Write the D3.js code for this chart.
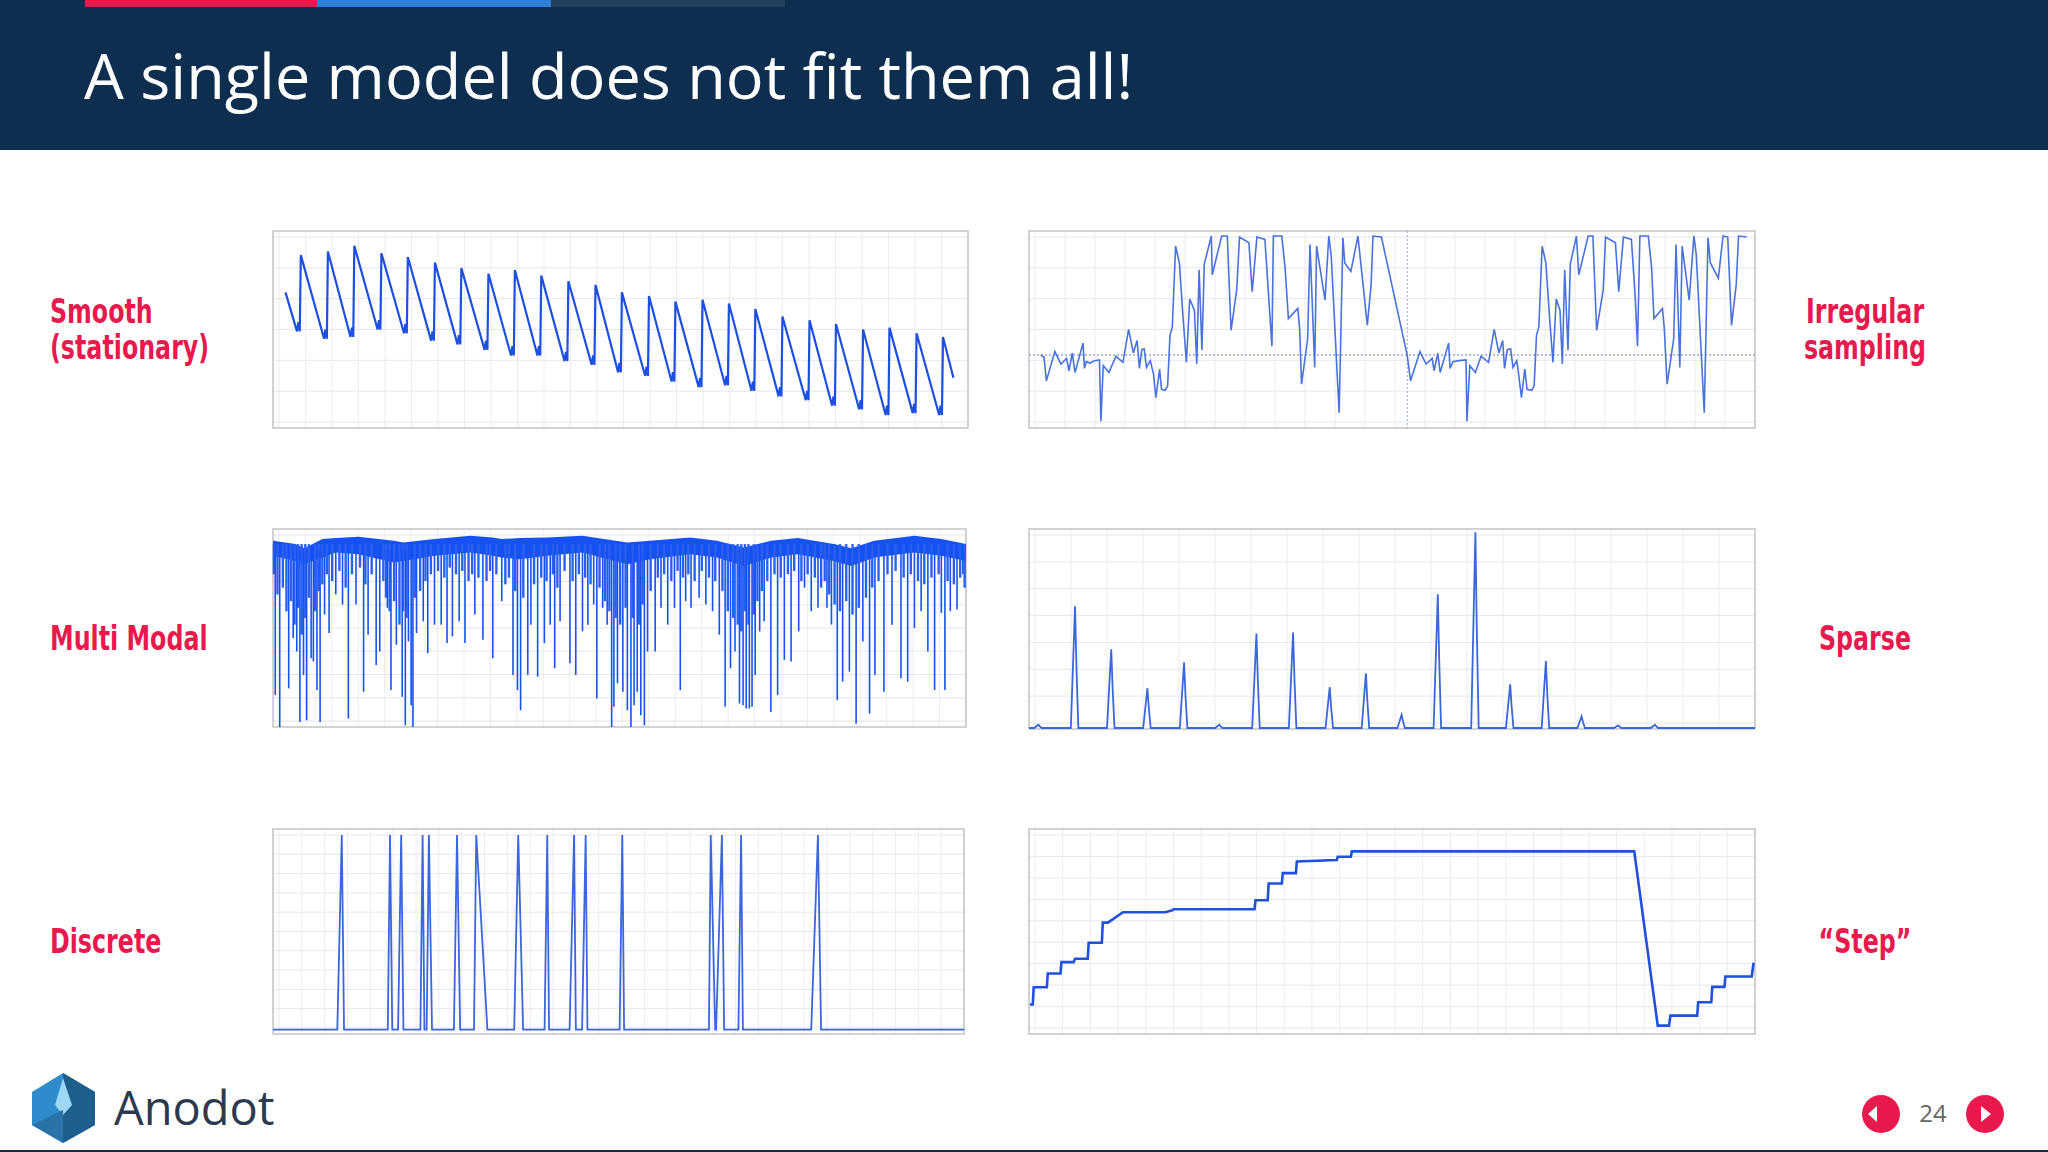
<!DOCTYPE html>
<html>
<head>
<meta charset="utf-8">
<script src="https://cdn.jsdelivr.net/npm/d3@7"></script>
<style>
  body { margin: 0; background: #fff; }
  svg { display: block; }
</style>
</head>
<body>
<svg width="2048" height="1152"></svg>
<script>
// ---- data ----
const titleText = "A single model does not fit them all!";
const leftLabels = [["Smooth", "(stationary)"], ["Multi Modal"], ["Discrete"]];
const rightLabels = [["Irregular", "sampling"], ["Sparse"], ["\u201cStep\u201d"]];
const pageNumber = "24";

// smooth: tooth time (% of width), tooth peak, trough before the next tooth (value 0-100)
const smoothTime = [1.8, 4.0, 7.9, 11.7, 15.6, 19.4, 23.3, 27.1, 31.0, 34.8, 38.6, 42.5, 46.4, 50.2, 54.1, 57.9, 61.8, 65.6, 69.4, 73.3, 77.2, 81.0, 84.9, 88.7, 92.6, 96.4];
const smoothPeak = [70, 90, 92, 95, 91, 89, 86, 83, 80, 82, 79, 76, 74, 70, 68, 65, 66, 64, 61, 57, 55, 53, 50, 51, 48, 46];
const smoothTrough = [49, 45, 46, 50, 48, 44, 42, 39, 36, 36, 33, 31, 27, 25, 22, 19, 20, 17, 14, 12, 9, 7, 4, 5, 4, 24];
const smoothEnd = 97.9;

// irregular sampling: [x, y] readings
const irregular = [[35,388],[42,395],[47,465],[65,378],[78,415],[90,398],[95,435],[102,383],[108,440],[125,353],[128,428],[132,408],[140,412],[150,405],[160,403],[163,585],[168,420],[180,440],[195,392],[210,410],[222,312],[232,382],[240,345],[245,428],[250,372],[255,370],[260,425],[268,405],[275,445],[280,515],[288,430],[292,490],[300,493],[305,480],[310,330],[315,305],[322,65],[330,115],[338,280],[345,410],[352,222],[362,255],[367,415],[372,135],[378,373],[383,118],[398,35],[400,150],[420,35],[432,35],[440,315],[452,195],[458,38],[478,55],[485,200],[495,38],[512,45],[520,215],[527,362],[530,35],[548,35],[555,130],[562,280],[582,250],[586,310],[590,475],[603,340],[608,60],[618,425],[622,65],[640,225],[648,35],[653,90],[670,560],[678,40],[682,115],[695,140],[710,35],[730,300],[738,180],[742,35],[760,38],[815,390],
  [822,465],[842,378],[855,415],[868,398],[872,435],[880,383],[885,440],[903,353],[906,428],[912,408],[925,405],[940,403],[942,585],[948,420],[960,440],[972,392],[988,410],[1000,312],[1010,382],[1018,345],[1022,428],[1028,372],[1035,370],[1040,425],[1048,405],[1052,445],[1058,515],[1065,430],[1070,490],[1080,493],[1085,480],[1090,330],[1095,305],[1102,65],[1110,115],[1118,280],[1125,410],[1132,222],[1140,255],[1145,415],[1150,135],[1157,373],[1162,118],[1175,35],[1180,150],[1200,35],[1210,35],[1218,315],[1232,195],[1237,38],[1258,55],[1265,200],[1275,38],[1292,45],[1300,215],[1305,362],[1310,35],[1328,35],[1335,130],[1340,280],[1358,250],[1362,310],[1368,475],[1382,340],[1387,60],[1395,425],[1400,65],[1415,225],[1425,35],[1430,90],[1447,560],[1455,40],[1460,115],[1477,160],[1487,35],[1497,38],[1505,300],[1515,180],[1520,35],[1537,38]];
const irregularMean = 388;
const irregularBreak = 815;

// multi modal: dense band (top / bottom), deep dips and short dips
const modalBandX = [10, 60, 80, 120, 150, 200, 280, 300, 370, 450, 500, 520, 560, 620, 700, 800, 850, 940, 1000, 1060, 1120, 1180, 1260, 1300, 1350, 1440, 1500, 1555];
const modalTop = [50, 60, 72, 45, 42, 38, 50, 55, 45, 35, 40, 45, 42, 40, 35, 55, 50, 40, 50, 70, 50, 42, 60, 72, 50, 35, 45, 60];
const modalBottom = [95, 110, 120, 100, 85, 90, 115, 110, 95, 85, 95, 100, 105, 95, 85, 120, 105, 90, 100, 125, 100, 90, 110, 125, 100, 85, 95, 110];
const modalDips = [[15,510],[25,605],[45,490],[55,340],[63,380],[70,590],[78,450],[85,585],[95,400],[100,410],[108,495],[115,590],[125,270],[135,325],[150,210],[165,240],[178,580],[195,240],[212,500],[222,330],[240,420],[248,380],[265,250],[273,495],[285,360],[298,515],[305,600],[312,350],[318,540],[322,605],[330,325],[345,290],[355,385],[370,300],[385,300],[398,355],[410,335],[425,290],[438,355],[460,270],[478,345],[500,400],[520,230],[545,450],[555,495],[562,555],[578,450],[585,300],[600,455],[615,355],[628,300],[638,430],[650,290],[672,415],[685,450],[700,320],[712,300],[725,240],[732,520],[745,250],[755,300],[765,605],[770,545],[778,475],[790,500],[800,555],[808,605],[815,540],[822,500],[830,570],[838,600],[845,380],[862,380],[875,250],[890,300],[905,250],[918,495],[930,230],[942,250],[960,220],[975,240],[990,260],[1005,330],[1018,545],[1030,430],[1040,380],[1050,535],[1058,540],[1065,550],[1072,550],[1078,545],[1085,450],[1095,320],[1105,290],[1120,560],[1135,510],[1150,405],[1165,410],[1182,320],[1195,190],[1210,260],[1225,250],[1245,250],[1255,300],[1268,525],[1280,470],[1295,440],[1310,595],[1325,350],[1340,565],[1352,450],[1372,500],[1390,300],[1410,460],[1425,470],[1440,310],[1455,260],[1470,380],[1485,495],[1500,265],[1508,495],[1520,260],[1535,255],[1548,150]];
const modalShort = [[12,150],[20,210],[32,190],[40,260],[50,230],[58,300],[66,250],[74,330],[82,280],[90,220],[104,260],[112,200],[120,180],[130,150],[142,170],[158,140],[172,190],[186,150],[204,130],[216,180],[230,150],[256,170],[262,220],[270,260],[280,230],[292,300],[300,260],[308,280],[326,220],[338,200],[350,170],[362,150],[378,140],[392,160],[404,130],[418,150],[432,140],[446,170],[454,150],[468,160],[486,170],[494,140],[508,150],[528,180],[536,160],[550,200],[568,220],[592,180],[608,160],[620,170],[634,150],[644,190],[660,140],[678,170],[692,150],[706,160],[718,180],[738,190],[750,230],[760,260],[774,280],[784,300],[796,250],[812,280],[826,300],[834,240],[852,200],[868,160],[882,150],[898,170],[912,140],[924,160],[936,150],[950,170],[966,140],[982,160],[996,170],[1012,200],[1024,260],[1036,280],[1046,300],[1054,320],[1062,260],[1070,300],[1082,270],[1090,230],[1100,200],[1112,170],[1128,150],[1142,160],[1158,150],[1172,140],[1188,170],[1202,150],[1218,160],[1232,190],[1240,170],[1250,210],[1262,240],[1274,260],[1288,230],[1302,270],[1316,250],[1332,220],[1346,190],[1360,170],[1380,150],[1398,140],[1416,160],[1432,150],[1448,170],[1462,180],[1478,160],[1494,150],[1514,170],[1528,180],[1542,160],[1552,190]];

// sparse: spike position and peak (baseline 625)
const sparseAt = [30, 108, 185, 262, 340, 415, 494, 572, 650, 727, 803, 880, 960, 1034, 1110, 1186, 1264, 1342];
const sparsePeak = [615, 258, 388, 505, 427, 615, 340, 337, 502, 460, 585, 222, 35, 493, 423, 590, 617, 615];
const sparseBase = 625;

// discrete: spikes [start, peak, end] (baseline 615, top 33)
const discreteSpikes = [[152,162,167],[265,270,275],[288,295,300],[338,343,347],[352,357,364],[413,420,427],[458,463,488],[548,557,568],[616,622,626],[672,682,686],[700,708,712],[784,790,794],[984,988,998],[1000,1013,1018],[1050,1056,1060],[1213,1228,1235]];
const discreteBase = 615, discreteTop = 33;

// step: [x, y] corners
const stepPoints = [[12,540],[18,540],[20,488],[48,488],[50,447],[77,447],[79,413],[105,413],[108,403],[135,403],[137,355],[165,355],[167,295],[178,295],[210,264],[300,264],[315,258],[318,255],[490,255],[492,228],[518,228],[520,178],[548,178],[550,147],[578,147],[580,112],[665,108],[667,98],[695,98],[697,82],[1298,82],[1348,603],[1372,603],[1375,573],[1432,573],[1434,533],[1462,533],[1464,487],[1490,487],[1492,456],[1548,456],[1552,415]];

// ---- drawing ----
const svg = d3.select("svg");
const red = "#e8194d";

// header
svg.append("rect").attr("width", 2048).attr("height", 150).attr("fill", "#0d2e4f");
[["#e8194d", 85, 317], ["#2f7fd6", 317, 551], ["#233f5c", 551, 785]].forEach(d => {
  svg.append("rect").attr("x", d[1]).attr("y", 0).attr("width", d[2] - d[1]).attr("height", 7).attr("fill", d[0]);
});
svg.append("text").attr("x", 84).attr("y", 99).attr("fill", "#fff")
  .attr("font-family", "'Open Sans', sans-serif").attr("font-size", 63).text(titleText);

function panel(box, xDom, yDom, xTicks, yTicks) {
  const g = svg.append("g").attr("transform", `translate(${box[0]},${box[1]})`);
  const w = box[2] - box[0], h = box[3] - box[1];
  const x = d3.scaleLinear().domain(xDom).range([0, w]);
  const y = d3.scaleLinear().domain(yDom).range([h, 0]);
  const gx = d3.scaleLinear().domain([0, xTicks]).range([6, w]);
  const gy = d3.scaleLinear().domain([0, yTicks]).range([h - 6, 6]);
  g.selectAll(".vg").data(d3.range(xTicks + 1)).join("line")
    .attr("x1", d => gx(d)).attr("x2", d => gx(d)).attr("y1", 0).attr("y2", h)
    .attr("stroke", "#ececf2").attr("stroke-width", 1);
  g.selectAll(".hg").data(d3.range(yTicks + 1)).join("line")
    .attr("y1", d => gy(d)).attr("y2", d => gy(d)).attr("x1", 0).attr("x2", w)
    .attr("stroke", "#e6e6ee").attr("stroke-width", 1);
  g.append("rect").attr("width", w).attr("height", h).attr("fill", "none")
    .attr("stroke", "#c4c4c8").attr("stroke-width", 1.5);
  return { g, x, y, w, h };
}

// smooth
{
  const p = panel([273, 231, 968, 428], [0, 100], [-3, 103], 26, 6);
  const pts = [];
  smoothTime.forEach((t, i) => {
    pts.push([t, smoothPeak[i]]);
    const next = i < smoothTime.length - 1 ? smoothTime[i + 1] : smoothEnd;
    if (i < smoothTime.length - 1) {
      pts.push([next - 0.55, smoothTrough[i]]);
      pts.push([next - 0.35, smoothTrough[i] + 5]);
      pts.push([next - 0.15, smoothTrough[i]]);
    } else {
      pts.push([next, smoothTrough[i]]);
    }
  });
  p.g.append("path").datum(pts).attr("fill", "none").attr("stroke", "#1d4fe0").attr("stroke-width", 2.2)
    .attr("d", d3.line().x(d => p.x(d[0])).y(d => p.y(d[1])));
}

// irregular
{
  const p = panel([1029, 231, 1755, 428], [10, 1555], [605, 20], 24, 6);
  p.g.append("line").attr("x1", 0).attr("x2", p.w).attr("y1", p.y(irregularMean)).attr("y2", p.y(irregularMean))
    .attr("stroke", "#9aa6d8").attr("stroke-width", 1.5).attr("stroke-dasharray", "2,2");
  p.g.append("line").attr("x1", p.x(irregularBreak)).attr("x2", p.x(irregularBreak)).attr("y1", 0).attr("y2", p.h)
    .attr("stroke", "#9aa6d8").attr("stroke-width", 1).attr("stroke-dasharray", "2,2");
  p.g.append("path").datum(irregular).attr("fill", "none").attr("stroke", "#4a72dc").attr("stroke-width", 1.6)
    .attr("d", d3.line().x(d => p.x(d[0])).y(d => p.y(d[1])));
}

// multi modal
{
  const p = panel([273, 529, 966, 727], [10, 1555], [605, 15], 26, 8);
  const band = modalBandX.map((x, i) => [x, modalTop[i], modalBottom[i]]);
  const bandArea = d3.area().x(d => p.x(d[0])).y0(d => p.y(d[2])).y1(d => p.y(d[1])).curve(d3.curveLinear);
  p.g.append("path").datum(band).attr("fill", "#1652f2").attr("d", bandArea);
  p.g.selectAll(".short").data(modalShort).join("line")
    .attr("x1", d => p.x(d[0])).attr("x2", d => p.x(d[0]))
    .attr("y1", p.y(60)).attr("y2", d => p.y(d[1]))
    .attr("stroke", "#2a5ff0").attr("stroke-width", 2.4);
  p.g.selectAll(".dip").data(modalDips).join("line")
    .attr("x1", d => p.x(d[0])).attr("x2", d => p.x(d[0]))
    .attr("y1", p.y(80)).attr("y2", d => p.y(d[1]))
    .attr("stroke", "#1652f2").attr("stroke-width", 1.6);
}

// sparse
{
  const p = panel([1029, 529, 1755, 729], [10, 1555], [628, 25], 20, 7);
  const pts = [[10, sparseBase]];
  sparseAt.forEach((x, i) => {
    pts.push([x - 9, sparseBase], [x, sparsePeak[i]], [x + 3, (sparsePeak[i] + sparseBase) / 2], [x + 7, sparseBase]);
  });
  pts.push([1555, sparseBase]);
  p.g.append("path").datum(pts).attr("fill", "none").attr("stroke", "#3a66de").attr("stroke-width", 1.8)
    .attr("d", d3.line().x(d => p.x(d[0])).y(d => p.y(d[1])));
}

// discrete
{
  const p = panel([273, 829, 964, 1034], [8, 1555], [628, 15], 30, 10);
  const pts = [[8, discreteBase]];
  discreteSpikes.forEach(s => pts.push([s[0], discreteBase], [s[1], discreteTop], [s[2], discreteBase]));
  pts.push([1555, discreteBase]);
  p.g.append("path").datum(pts).attr("fill", "none").attr("stroke", "#3a66de").attr("stroke-width", 1.8)
    .attr("d", d3.line().x(d => p.x(d[0])).y(d => p.y(d[1])));
}

// step
{
  const p = panel([1029, 829, 1755, 1034], [10, 1555], [628, 15], 26, 9);
  p.g.append("path").datum(stepPoints).attr("fill", "none").attr("stroke", "#2050dc").attr("stroke-width", 2.6)
    .attr("d", d3.line().x(d => p.x(d[0])).y(d => p.y(d[1])));
}

// side labels (condensed heavy look)
function label(lines, x, cy, anchor) {
  const sx = 0.72;
  const t = svg.append("text").attr("transform", `translate(${x},0) scale(${sx},1)`)
    .attr("text-anchor", anchor).attr("fill", red)
    .attr("font-family", "'DejaVu Sans', sans-serif")
    .attr("font-weight", "bold").attr("font-size", 33);
  lines.forEach((l, i) => {
    t.append("tspan").attr("x", 0).attr("y", cy + 12 + (i - (lines.length - 1) / 2) * 36).text(l);
  });
}
[329, 638, 941].forEach((cy, i) => {
  label(leftLabels[i], 50, cy, "start");
  label(rightLabels[i], 1865, cy, "middle");
});

// logo
const lg = svg.append("g");
lg.append("polygon").attr("points", "63,1073 95,1092 95,1125 63,1143 32,1125 32,1092").attr("fill", "#2e8ccc");
lg.append("polygon").attr("points", "63,1073 95,1092 95,1125 63,1143 63,1110").attr("fill", "#1d5f8c");
lg.append("polygon").attr("points", "63,1078 72,1105 63,1115 55,1105").attr("fill", "#9ad8f6");
lg.append("polygon").attr("points", "32,1125 63,1110 63,1143").attr("fill", "#2a73a8");
svg.append("text").attr("x", 114).attr("y", 1125).attr("fill", "#2b3a4f")
  .attr("font-family", "'Open Sans', sans-serif").attr("font-size", 47).text("Anodot");

// page nav
[1881, 1985].forEach(cx => {
  svg.append("circle").attr("cx", cx).attr("cy", 1114).attr("r", 19).attr("fill", red);
});
svg.append("path").attr("d", "M1877,1106 L1877,1122 L1868,1114 Z").attr("fill", "#fff");
svg.append("path").attr("d", "M1981,1106 L1981,1122 L1991,1114 Z").attr("fill", "#fff");
svg.append("text").attr("x", 1933).attr("y", 1122).attr("text-anchor", "middle").attr("fill", "#666")
  .attr("font-family", "'Open Sans', sans-serif").attr("font-size", 24).text(pageNumber);
svg.append("rect").attr("x", 0).attr("y", 1150).attr("width", 2048).attr("height", 2).attr("fill", "#0d2e4f");
</script>
</body>
</html>
